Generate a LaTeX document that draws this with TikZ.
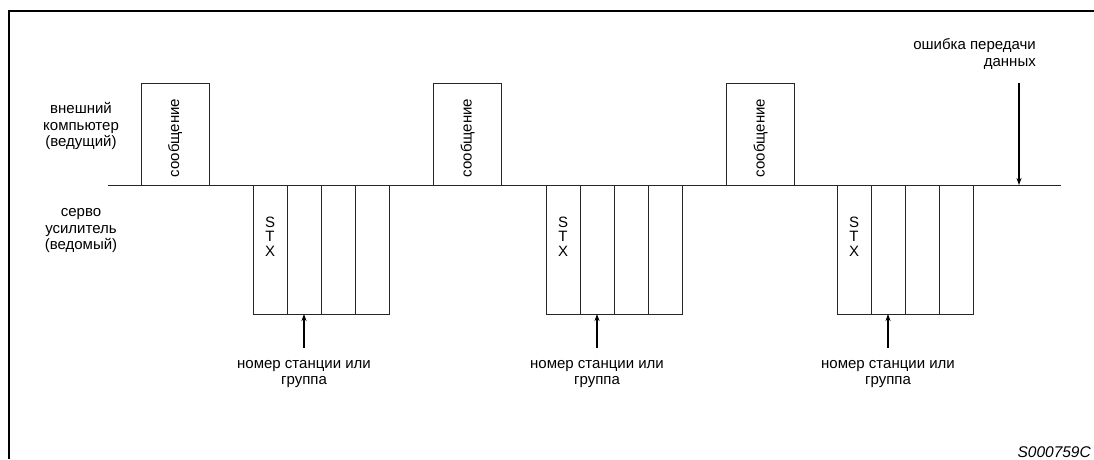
\documentclass[tikz,border=0pt]{standalone}
\usepackage{fontspec}
\setmainfont{Liberation Sans}
\usetikzlibrary{arrows.meta,calc}
\begin{document}
\begin{tikzpicture}[x=1pt,y=-1pt,
  txt/.style={font=\fontsize{15}{16.5}\selectfont, align=center, inner sep=0pt},
  stx/.style={font=\fontsize{15}{14.5}\selectfont, align=center, inner sep=0pt},
  msgbox/.style={draw=black!85, line width=0.8pt, minimum width=68pt, minimum height=102pt,
    inner sep=0pt, outer sep=0pt},
  msgtext/.style={rotate=90, inner sep=0pt, font=\fontsize{15}{16.5}\selectfont},
  cell/.style={draw=black!85, line width=0.8pt, minimum width=34pt, minimum height=129pt,
    inner sep=0pt, outer sep=0pt},
  arr/.style={line width=1.6pt, -{Stealth[length=7pt,width=5pt]}},
  frame/.style={line width=2.2pt},
  base/.style={line width=0.8pt, black!85}]
\useasboundingbox (0,0) rectangle (1094,459);
\draw[frame] (9,459) -- (9,11) -- (1094,11);

% baseline
\coordinate (bl) at (108,185);
\coordinate (br) at (1061,185);
\draw[base] (bl) -- (br);

% row labels
\node[txt] (master) at (81,126) {внешний\\компьютер\\(ведущий)};
\node[txt] (slave) at (81,231) {серво\\усилитель\\(ведомый)};

% message boxes
\foreach \i/\x in {1/175, 2/467.5, 3/760.5} {
  \node[msgbox] (m\i) at (\x,134) {};
  \node[msgtext] (mt\i) at ($(m\i.center)+(0,4)$) {сообщение};
}

% STX groups
\foreach \g/\x in {1/253, 2/546, 3/837} {
  \node[cell] (g\g a) at (\x+17,249.5) {};
  \node[cell, anchor=west] (g\g b) at (g\g a.east) {};
  \node[cell, anchor=west] (g\g c) at (g\g b.east) {};
  \node[cell, anchor=west] (g\g d) at (g\g c.east) {};
  \node[stx] (stx\g) at (\x+17,236.5) {S\\T\\X};
  \coordinate (a\g) at ($(g\g b.south)+(0,34)$);
  \node[txt] (n\g) at ($(g\g b.south)+(0,60)$) {номер станции или\\группа};
  \draw[arr] (a\g) -- (g\g b.south);
}

% transmission error
\node[txt, align=right, anchor=east] (err) at (1036,54) {ошибка передачи\\данных};
\coordinate (e1) at (1019,83);
\coordinate (e2) at (1019,185);
\draw[arr] (e1) -- (e2);

\node[inner sep=0pt, anchor=east, font=\fontsize{15.5}{17}\selectfont\itshape] (code) at (1091,452) {S000759C};
\end{tikzpicture}
\end{document}
